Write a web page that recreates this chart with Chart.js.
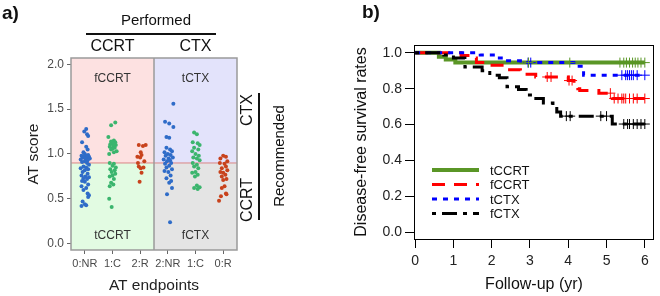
<!DOCTYPE html>
<html>
<head>
<meta charset="utf-8">
<script src="https://cdn.jsdelivr.net/npm/chart.js@4.4.1/dist/chart.umd.min.js"></script>
<style>
html, body { margin: 0; padding: 0; background: #fff; }
#wrap { position: relative; width: 660px; height: 296px; }
.panel { position: absolute; top: 0; width: 330px; height: 296px; }
</style>
</head>
<body>
<div id="wrap">
  <div class="panel" style="left:0"><canvas id="chart-a" width="330" height="296"></canvas></div>
  <div class="panel" style="left:330px"><canvas id="chart-b" width="330" height="296"></canvas></div>
</div>
<script>
// ---- panel a data: AT score per endpoint (y) and jitter (x offset)
var endpointLabels = ['0:NR', '1:C', '2:R', '2:NR', '1:C', '0:R'];
var endpointColors = ['#2f6cc8', '#3bb56e', '#c8421c', '#2f6cc8', '#3bb56e', '#c8421c'];

var scoreCcrtNR = [1.28, 1.25, 1.22, 1.2, 1.13, 1.08, 1.05, 1.02, 1.0, 0.99, 0.98, 0.98, 0.97, 0.97, 0.96, 0.96, 0.95, 0.95, 0.94, 0.93, 0.92, 0.91, 0.9, 0.88, 0.86, 0.85, 0.84, 0.83, 0.82, 0.8, 0.78, 0.76, 0.75, 0.74, 0.73, 0.72, 0.7, 0.69, 0.66, 0.64, 0.62, 0.6, 0.56, 0.54, 0.52, 0.47, 0.44, 0.43, 0.42];
var jitterCcrtNR = [0.05, -0.02, 0.08, 0.12, -0.1, 0.05, 0.1, -0.05, 0.0, 0.12, -0.12, 0.05, 0.15, -0.02, 0.08, -0.08, 0.02, 0.18, -0.15, 0.1, 0.0, -0.1, 0.08, 0.15, -0.05, 0.05, -0.15, 0.12, 0.0, -0.08, 0.1, -0.12, 0.02, 0.15, -0.05, 0.08, -0.1, 0.0, 0.12, -0.12, 0.05, -0.05, 0.1, 0.15, 0.12, -0.08, 0.0, 0.05, -0.12];
var scoreCcrtC = [1.35, 1.32, 1.19, 1.15, 1.14, 1.13, 1.12, 1.11, 1.1, 1.09, 1.08, 1.07, 1.06, 1.05, 1.03, 1.02, 1.0, 0.9, 0.89, 0.87, 0.85, 0.83, 0.82, 0.8, 0.78, 0.76, 0.75, 0.72, 0.68, 0.66, 0.64, 0.5, 0.41];
var jitterCcrtC = [0.1, -0.05, -0.15, 0.05, -0.05, 0.1, 0.0, -0.08, 0.12, 0.03, -0.1, 0.08, 0.0, -0.05, 0.15, 0.05, -0.12, -0.1, 0.05, 0.0, 0.12, -0.08, 0.08, -0.03, 0.1, 0.0, -0.1, 0.05, -0.05, 0.03, -0.1, -0.12, -0.03];
var scoreCcrtR = [1.1, 1.09, 1.1, 1.02, 0.99, 0.97, 0.96, 0.92, 0.9, 0.86, 0.85, 0.84, 0.79, 0.69];
var jitterCcrtR = [-0.05, 0.1, 0.2, 0.02, 0.05, -0.1, 0.0, 0.15, -0.08, -0.05, 0.12, 0.02, 0.05, -0.02];
var scoreCtxNR = [1.56, 1.36, 1.34, 1.3, 1.19, 1.18, 1.07, 1.05, 1.03, 1.02, 1.0, 0.99, 0.98, 0.96, 0.95, 0.94, 0.93, 0.92, 0.9, 0.89, 0.87, 0.85, 0.83, 0.81, 0.8, 0.76, 0.73, 0.7, 0.68, 0.62, 0.55, 0.24];
var jitterCtxNR = [0.2, -0.1, 0.05, 0.2, -0.05, 0.05, -0.05, 0.08, 0.15, -0.12, 0.0, 0.1, -0.08, 0.18, 0.03, -0.15, 0.08, -0.03, 0.12, -0.1, 0.05, -0.05, 0.15, -0.12, 0.02, 0.1, -0.05, 0.12, 0.05, 0.15, -0.03, 0.08];
var scoreCtxC = [1.24, 1.22, 1.13, 1.12, 1.1, 1.07, 1.05, 1.03, 1.0, 0.98, 0.96, 0.95, 0.93, 0.9, 0.88, 0.86, 0.84, 0.8, 0.79, 0.77, 0.75, 0.65, 0.63, 0.62, 0.61];
var jitterCtxC = [-0.05, 0.05, -0.1, 0.08, 0.15, -0.05, 0.1, -0.12, 0.0, 0.12, -0.08, 0.05, 0.15, -0.1, 0.05, -0.05, 0.1, 0.0, -0.12, 0.08, -0.02, 0.05, 0.15, -0.05, 0.08];
var scoreCtxR = [0.98, 0.97, 0.95, 0.92, 0.9, 0.89, 0.86, 0.84, 0.82, 0.8, 0.79, 0.77, 0.75, 0.72, 0.71, 0.64, 0.62, 0.56, 0.55, 0.53, 0.48];
var jitterCtxR = [0.0, 0.1, -0.1, 0.15, -0.12, 0.05, 0.1, -0.05, 0.15, -0.1, 0.0, 0.08, -0.05, 0.12, 0.0, 0.05, -0.05, 0.1, 0.12, -0.08, -0.15];

var scoreGroups = [scoreCcrtNR, scoreCcrtC, scoreCcrtR, scoreCtxNR, scoreCtxC, scoreCtxR];
var jitterGroups = [jitterCcrtNR, jitterCcrtC, jitterCcrtR, jitterCtxNR, jitterCtxC, jitterCtxR];
var atCutoff = 0.9;
var scoreTicks = [0, 0.5, 1, 1.5, 2];

// ---- panel b data: Kaplan-Meier steps and censor times
var fuTicks = [0, 1, 2, 3, 4, 5, 6];
var dfsTicks = [0, 0.2, 0.4, 0.6, 0.8, 1.0];
var groupNames = ['tCCRT', 'fCCRT', 'tCTX', 'fCTX'];
var kmTimesTCCRT = [0, 0.62, 0.8, 1.05, 6.0];
var kmSurvTCCRT = [1, 0.978, 0.962, 0.945, 0.945];
var kmTimesFCCRT = [0, 1.2, 1.45, 1.6, 1.95, 2.35, 2.75, 3.15, 4.0, 4.15, 4.25, 4.3, 4.8, 5.15, 6.0];
var kmSurvFCCRT = [1, 0.985, 0.97, 0.945, 0.93, 0.905, 0.88, 0.865, 0.845, 0.825, 0.8, 0.79, 0.775, 0.745, 0.745];
var kmTimesTCTX = [0, 1.7, 2.2, 2.35, 2.75, 4.2, 4.4, 6.0];
var kmSurvTCTX = [1, 0.987, 0.97, 0.955, 0.945, 0.925, 0.875, 0.875];
var kmTimesFCTX = [0, 0.75, 1.0, 1.3, 1.75, 1.95, 2.2, 2.4, 2.7, 2.9, 3.1, 3.35, 3.6, 3.7, 3.8, 5.15, 6.0];
var kmSurvFCTX = [1, 0.987, 0.97, 0.92, 0.9, 0.875, 0.86, 0.81, 0.795, 0.765, 0.745, 0.72, 0.7, 0.67, 0.647, 0.603, 0.603];
var censorTCCRT = [2.96, 4.04, 5.35, 5.45, 5.52, 5.6, 5.68, 5.75, 5.82, 5.9, 6.0];
var censorFCCRT = [3.45, 3.55, 4.02, 4.1, 5.1, 5.2, 5.3, 5.4, 5.45, 5.5, 5.6, 5.7, 5.8, 6.0];
var censorTCTX = [2.95, 3.02, 5.4, 5.5, 5.55, 5.6, 5.65, 5.7, 5.8, 6.0];
var censorFCTX = [3.95, 4.05, 4.85, 5.0, 5.45, 5.55, 5.6, 5.7, 5.8, 5.9, 6.0];

Chart.defaults.font.family = "'Liberation Sans', Arial, sans-serif";
Chart.defaults.color = '#222';
Chart.defaults.animation = false;

// ===================== panel a =====================
var stripSets = scoreGroups.map(function (vals, g) {
    return {
        label: endpointLabels[g],
        data: vals.map(function (v, i) { return { x: g + 1 + jitterGroups[g][i], y: v }; }),
        backgroundColor: endpointColors[g],
        borderWidth: 0,
        pointRadius: 2
    };
});

var quadrants = {
    id: 'quadrants',
    beforeDatasetsDraw: function (chart) {
        var c = chart.ctx, a = chart.chartArea;
        var xs = chart.scales.x, ys = chart.scales.y;
        var mid = xs.getPixelForValue(3.5), cut = ys.getPixelForValue(atCutoff);
        c.save();
        c.fillStyle = '#fde1e1'; c.fillRect(a.left, a.top, mid - a.left, cut - a.top);
        c.fillStyle = '#e3e3fb'; c.fillRect(mid, a.top, a.right - mid, cut - a.top);
        c.fillStyle = '#e2fbe2'; c.fillRect(a.left, cut, mid - a.left, a.bottom - cut);
        c.fillStyle = '#e4e4e4'; c.fillRect(mid, cut, a.right - mid, a.bottom - cut);
        c.strokeStyle = '#d98585'; c.lineWidth = 1;
        c.beginPath(); c.moveTo(a.left, cut); c.lineTo(a.right, cut); c.stroke();
        c.strokeStyle = '#9a9a9a'; c.lineWidth = 1.5;
        c.beginPath(); c.moveTo(mid, a.top); c.lineTo(mid, a.bottom); c.stroke();
        c.strokeRect(a.left, a.top, a.right - a.left, a.bottom - a.top);
        // region names
        c.fillStyle = '#333'; c.font = "12px 'Liberation Sans', Arial";
        c.textAlign = 'center'; c.textBaseline = 'middle';
        var cx1 = xs.getPixelForValue(2), cx2 = xs.getPixelForValue(5);
        c.fillText('fCCRT', cx1, a.top + 21); c.fillText('tCTX', cx2, a.top + 21);
        c.fillText('tCCRT', cx1, a.bottom - 14); c.fillText('fCTX', cx2, a.bottom - 14);
        c.restore();
    },
    afterDraw: function (chart) {
        var c = chart.ctx, a = chart.chartArea, xs = chart.scales.x;
        c.save();
        c.fillStyle = '#111'; c.strokeStyle = '#111';
        c.textAlign = 'left'; c.textBaseline = 'middle';
        c.font = "bold 19px 'Liberation Sans', Arial";
        c.fillText('a)', 2, 14);
        c.textAlign = 'center';
        c.font = "15px 'Liberation Sans', Arial";
        c.fillText('Performed', 156, 21);
        c.lineWidth = 2;
        c.beginPath(); c.moveTo(86, 34); c.lineTo(216, 34); c.stroke();
        c.font = "16px 'Liberation Sans', Arial";
        c.fillText('CCRT', xs.getPixelForValue(2), 47);
        c.fillText('CTX', xs.getPixelForValue(5), 47);
        // recommended side
        var rx = a.right + 11;
        c.save(); c.translate(rx, 110); c.rotate(-Math.PI / 2); c.fillText('CTX', 0, 0); c.restore();
        c.save(); c.translate(rx, 200); c.rotate(-Math.PI / 2); c.fillText('CCRT', 0, 0); c.restore();
        c.beginPath(); c.moveTo(a.right + 22, 93); c.lineTo(a.right + 22, 220); c.stroke();
        c.font = "15px 'Liberation Sans', Arial";
        c.save(); c.translate(a.right + 43, 156); c.rotate(-Math.PI / 2); c.fillText('Recommended', 0, 0); c.restore();
        c.restore();
    }
};

new Chart(document.getElementById('chart-a'), {
    type: 'scatter',
    data: { datasets: stripSets },
    options: {
        responsive: false,
        layout: { padding: { top: 58, right: 93, left: 0, bottom: 0 } },
        plugins: { legend: { display: false }, tooltip: { enabled: false } },
        scales: {
            x: {
                type: 'linear', min: 0.5, max: 6.5,
                afterBuildTicks: function (s) { s.ticks = [1, 2, 3, 4, 5, 6].map(function (v) { return { value: v }; }); },
                afterFit: function (s) { s.height = 46; },
                ticks: {
                    autoSkip: false, maxRotation: 0, padding: 3, color: '#4a4a4a',
                    font: { size: 11 },
                    callback: function (v) { return endpointLabels[v - 1]; }
                },
                grid: { drawOnChartArea: false, tickLength: 4, color: '#666' },
                border: { display: false },
                title: { display: true, text: 'AT endpoints', font: { size: 15.5 }, color: '#222', padding: { top: 0, bottom: 1 } }
            },
            y: {
                min: -0.07, max: 2.07,
                afterBuildTicks: function (s) { s.ticks = scoreTicks.map(function (v) { return { value: v }; }); },
                afterFit: function (s) { s.width = 71; },
                ticks: { padding: 3, color: '#4a4a4a', font: { size: 12 }, callback: function (v) { return v.toFixed(1); } },
                grid: { drawOnChartArea: false, tickLength: 4, color: '#666' },
                border: { display: false },
                title: { display: true, text: 'AT score', font: { size: 15.5 }, color: '#222', padding: { top: 24, bottom: 0 } }
            }
        }
    },
    plugins: [quadrants]
});

// ===================== panel b =====================
function kmAt(times, surv, t) {
    var s = surv[0];
    for (var i = 0; i < times.length; i++) { if (times[i] <= t) s = surv[i]; }
    return s;
}
var kmStyles = [
    { color: '#5a9626', width: 4, dash: [] },
    { color: '#ff0000', width: 3, dash: [13, 9] },
    { color: '#0000ff', width: 3, dash: [5, 6] },
    { color: '#000000', width: 3, dash: [4, 6, 15, 6] }
];
var kmTimes = [kmTimesTCCRT, kmTimesFCCRT, kmTimesTCTX, kmTimesFCTX];
var kmSurv = [kmSurvTCCRT, kmSurvFCCRT, kmSurvTCTX, kmSurvFCTX];
var kmCensor = [censorTCCRT, censorFCCRT, censorTCTX, censorFCTX];

var kmSets = [];
groupNames.forEach(function (name, g) {
    kmSets.push({
        type: 'line', label: name,
        data: kmTimes[g].map(function (t, i) { return { x: t, y: kmSurv[g][i] }; }),
        stepped: 'before',
        borderColor: kmStyles[g].color, borderWidth: kmStyles[g].width, borderDash: kmStyles[g].dash,
        borderCapStyle: 'butt', pointRadius: 0, fill: false, order: 4 - g
    });
});
groupNames.forEach(function (name, g) {
    kmSets.push({
        type: 'scatter', label: name + ' censored',
        data: kmCensor[g].map(function (t) { return { x: t, y: kmAt(kmTimes[g], kmSurv[g], t) }; }),
        pointStyle: 'cross', pointRadius: 5, borderWidth: 1,
        borderColor: kmStyles[g].color, backgroundColor: kmStyles[g].color, order: 0
    });
});

var kmFrame = {
    id: 'kmFrame',
    afterDraw: function (chart) {
        var c = chart.ctx, a = chart.chartArea;
        c.save();
        c.strokeStyle = '#000'; c.lineWidth = 1;
        c.strokeRect(a.left + 0.5, a.top + 0.5, a.right - a.left - 1, a.bottom - a.top);
        c.fillStyle = '#111';
        c.font = "bold 19px 'Liberation Sans', Arial";
        c.textBaseline = 'middle'; c.textAlign = 'left';
        c.fillText('b)', 32, 13);
        // legend
        c.font = "13px 'Liberation Sans', Arial";
        var rows = [125, 139.5, 154, 168.5];
        groupNames.forEach(function (name, g) {
            var y = a.top + rows[g];
            c.strokeStyle = kmStyles[g].color; c.lineWidth = kmStyles[g].width;
            c.setLineDash(kmStyles[g].dash); c.lineCap = 'butt';
            c.beginPath(); c.moveTo(a.left + 18, y); c.lineTo(a.left + 65, y); c.stroke();
            c.setLineDash([]);
            c.fillStyle = '#111';
            c.fillText(name, a.left + 76, y + 1);
        });
        c.restore();
    }
};

new Chart(document.getElementById('chart-b'), {
    type: 'line',
    data: { datasets: kmSets },
    options: {
        responsive: false,
        layout: { padding: { top: 45, right: 3, left: 0, bottom: 0 } },
        plugins: { legend: { display: false }, tooltip: { enabled: false } },
        scales: {
            x: {
                type: 'linear', min: -0.03, max: 6.24,
                afterBuildTicks: function (s) { s.ticks = fuTicks.map(function (v) { return { value: v }; }); },
                afterFit: function (s) { s.height = 57; },
                ticks: { padding: 5, color: '#222', font: { size: 14 } },
                grid: { drawOnChartArea: false, tickLength: 9, color: '#000' },
                border: { display: false },
                title: { display: true, text: 'Follow-up (yr)', font: { size: 16 }, color: '#111', padding: { top: 0, bottom: 2 } }
            },
            y: {
                min: -0.037, max: 1.043,
                afterBuildTicks: function (s) { s.ticks = dfsTicks.map(function (v) { return { value: v }; }); },
                afterFit: function (s) { s.width = 84; },
                ticks: { padding: 3, color: '#222', font: { size: 14 }, callback: function (v) { return v.toFixed(1); } },
                grid: { drawOnChartArea: false, tickLength: 9, color: '#000' },
                border: { display: false },
                title: { display: true, text: 'Disease-free survival rates', font: { size: 16 }, color: '#111', padding: { top: 22, bottom: 0 } }
            }
        }
    },
    plugins: [kmFrame]
});
</script>
</body>
</html>
